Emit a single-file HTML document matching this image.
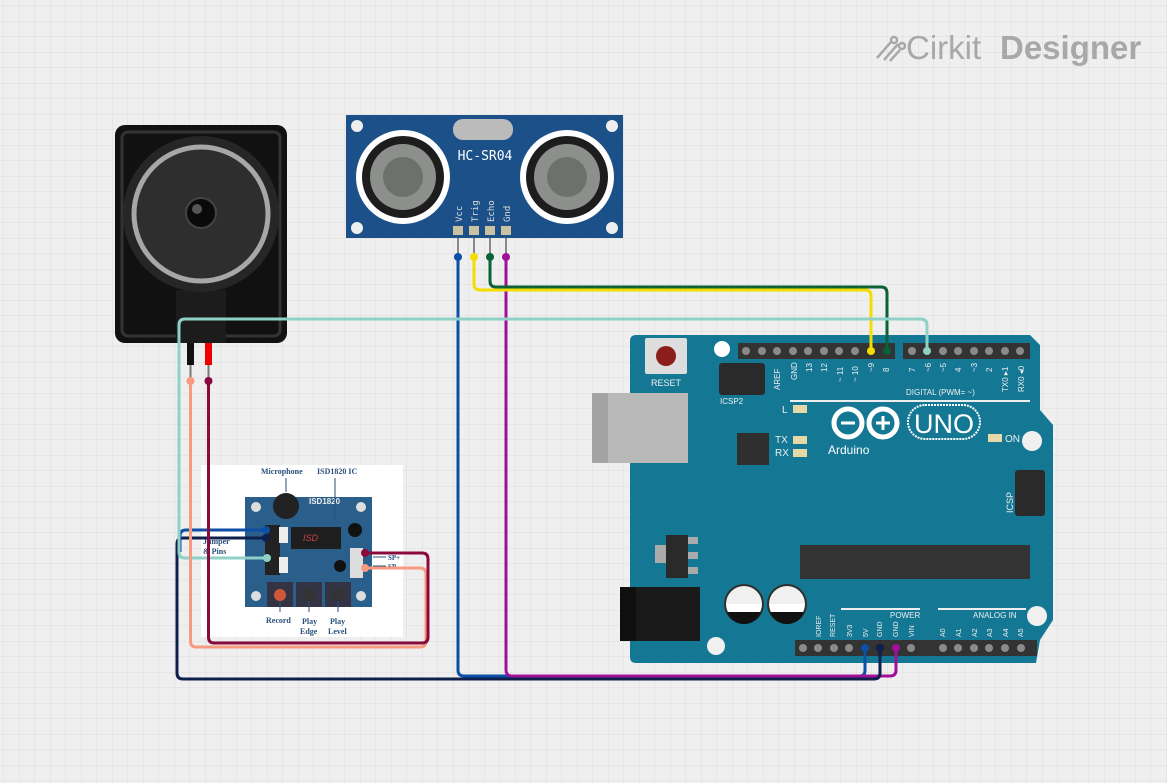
<!DOCTYPE html>
<html><head><meta charset="utf-8"><style>
html,body{margin:0;padding:0;background:#efefef;}
svg{display:block;font-family:"Liberation Sans",sans-serif;}
</style></head><body>
<svg width="1167" height="783" viewBox="0 0 1167 783" xmlns="http://www.w3.org/2000/svg">
<defs>
<pattern id="g" width="15.5" height="15.5" patternUnits="userSpaceOnUse" x="4" y="6">
<path d="M15.5 0V15.5H0" fill="none" stroke="#dcdcdc" stroke-width="1"/>
</pattern>
</defs>
<rect width="1167" height="783" fill="#efefef"/>
<rect width="1167" height="783" fill="url(#g)"/>

<!-- logo -->
<g fill="#a8a8a8">
<text x="906" y="59" font-size="33">Cirkit</text>
<text x="1000" y="59" font-size="33" font-weight="bold">Designer</text>
</g>
<g stroke="#a8a8a8" stroke-width="2.5" fill="none"><path d="M877 58l14-16M884 60l14-16M890 61l10-11"/><circle cx="894" cy="40" r="3"/><circle cx="902" cy="46" r="3"/></g>

<!-- Speaker -->
<rect x="115" y="125" width="172" height="218" rx="10" fill="#111"/>
<rect x="122" y="132" width="158" height="204" rx="6" fill="none" stroke="#333" stroke-width="3"/>
<rect x="176" y="290" width="50" height="53" fill="#1c1c1c"/>
<circle cx="201" cy="214" r="78" fill="#262626"/>
<circle cx="201" cy="214" r="67" fill="#2e2e2e" stroke="#a7a7a7" stroke-width="5"/>
<circle cx="201" cy="213" r="15" fill="#0a0a0a" stroke="#444" stroke-width="2"/>
<circle cx="197" cy="209" r="5" fill="#555"/>
<rect x="187" y="343" width="7" height="22" fill="#111"/>
<rect x="205" y="343" width="7" height="22" fill="#e00"/>
<path d="M190.5 365V381M208.5 365V381" stroke="#777" stroke-width="2"/>

<!-- HC-SR04 -->
<rect x="346" y="115" width="277" height="123" fill="#1b5089"/>
<circle cx="357" cy="126" r="6" fill="#eee"/><circle cx="612" cy="126" r="6" fill="#eee"/>
<circle cx="357" cy="228" r="6" fill="#eee"/><circle cx="612" cy="228" r="6" fill="#eee"/>
<rect x="453" y="119" width="60" height="21" rx="10" fill="#bbb"/>
<text x="485" y="160" font-size="13" fill="#fff" text-anchor="middle" font-family="DejaVu Sans Mono,monospace">HC-SR04</text>
<g><circle cx="403" cy="177" r="47" fill="#fff"/><circle cx="403" cy="177" r="41" fill="#1d1d1d"/><circle cx="403" cy="177" r="33" fill="#8c8f8c"/><circle cx="403" cy="177" r="20" fill="#6e706e"/></g>
<g><circle cx="567" cy="177" r="47" fill="#fff"/><circle cx="567" cy="177" r="41" fill="#1d1d1d"/><circle cx="567" cy="177" r="33" fill="#8c8f8c"/><circle cx="567" cy="177" r="20" fill="#6e706e"/></g>
<g font-size="9" fill="#ddd" font-family="DejaVu Sans Mono,monospace">
<text transform="translate(462,222) rotate(-90)">Vcc</text>
<text transform="translate(478,222) rotate(-90)">Trig</text>
<text transform="translate(494,222) rotate(-90)">Echo</text>
<text transform="translate(510,222) rotate(-90)">Gnd</text>
</g>
<g fill="#c8c2a0"><rect x="453" y="226" width="10" height="9"/><rect x="469" y="226" width="10" height="9"/><rect x="485" y="226" width="10" height="9"/><rect x="501" y="226" width="10" height="9"/></g>
<path d="M458 238V257M474 238V257M490 238V257M506 238V257" stroke="#888" stroke-width="2"/>

<!-- ISD1820 module -->
<rect x="201" y="465" width="202" height="172" fill="#fff"/>
<rect x="245" y="497" width="127" height="110" fill="#2b5f8b"/>
<g fill="#ddd"><circle cx="256" cy="507" r="5"/><circle cx="361" cy="507" r="5"/><circle cx="256" cy="596" r="5"/><circle cx="361" cy="596" r="5"/></g>
<circle cx="286" cy="506" r="13" fill="#222"/>
<rect x="291" y="527" width="50" height="22" fill="#1e1e1e"/>
<text x="303" y="541" font-size="9" fill="#c44" font-style="italic">ISD</text>
<circle cx="355" cy="530" r="7" fill="#111"/>
<circle cx="340" cy="566" r="6" fill="#111"/>
<rect x="350" y="548" width="13" height="30" fill="#ddd"/>
<rect x="265" y="525" width="15" height="50" fill="#222"/>
<rect x="279" y="527" width="9" height="16" fill="#eee"/><rect x="279" y="557" width="9" height="16" fill="#eee"/>
<g fill="#334"><rect x="267" y="582" width="26" height="25"/><rect x="296" y="582" width="26" height="25"/><rect x="325" y="582" width="26" height="25"/></g>
<circle cx="280" cy="595" r="6" fill="#d0583a"/><circle cx="309" cy="595" r="6" fill="#333"/><circle cx="338" cy="595" r="6" fill="#333"/>
<g font-family="Liberation Serif,serif" font-weight="bold" font-size="8" fill="#2a4f7a">
<text x="261" y="474">Microphone</text><text x="317" y="474">ISD1820 IC</text>
<text x="266" y="623">Record</text><text x="302" y="624">Play</text><text x="300" y="634">Edge</text><text x="330" y="624">Play</text><text x="328" y="634">Level</text>
<text x="203" y="544">Jumper</text><text x="203" y="554">&amp; Pins</text>
<text x="388" y="560" font-size="7">SP+</text><text x="388" y="569" font-size="7">SP-</text>
</g>
<text x="309" y="504" font-size="8" fill="#eee" font-weight="bold">ISD1820</text>
<path d="M286 492V478M335 520V478M280 601V612M309 601V612M338 601V612M373 557H386M373 566H386" stroke="#2a4f7a" stroke-width="1"/>

<!-- Arduino -->
<path d="M636 335H1030L1040 345V410L1053 425V620L1040 640L1036 663H636Q630 663 630 657V341Q630 335 636 335Z" fill="#147895"/>
<rect x="592" y="393" width="96" height="70" fill="#b9b9b9"/><rect x="592" y="393" width="16" height="70" fill="#a3a3a3"/>
<rect x="645" y="338" width="42" height="36" rx="2" fill="#ddd"/><circle cx="666" cy="356" r="10" fill="#8b1d1d"/>
<text x="666" y="386" font-size="9" fill="#eee" text-anchor="middle">RESET</text>
<circle cx="722" cy="349" r="8" fill="#fff"/>
<rect x="719" y="363" width="46" height="32" rx="3" fill="#2a2a2a"/>
<text x="720" y="404" font-size="8" fill="#eee">ICSP2</text>
<rect x="738" y="343" width="157" height="16" fill="#333"/>
<rect x="903" y="343" width="127" height="16" fill="#333"/>
<g fill="#8a8a8a">
<circle cx="746" cy="351" r="4"/><circle cx="762" cy="351" r="4"/><circle cx="777" cy="351" r="4"/><circle cx="793" cy="351" r="4"/><circle cx="808" cy="351" r="4"/><circle cx="824" cy="351" r="4"/><circle cx="839" cy="351" r="4"/><circle cx="855" cy="351" r="4"/>
<circle cx="912" cy="351" r="4"/><circle cx="943" cy="351" r="4"/><circle cx="958" cy="351" r="4"/><circle cx="974" cy="351" r="4"/><circle cx="989" cy="351" r="4"/><circle cx="1005" cy="351" r="4"/><circle cx="1020" cy="351" r="4"/>
</g>
<g font-size="8" fill="#eee">
<text transform="translate(780,390) rotate(-90)">AREF</text><text transform="translate(797,380) rotate(-90)">GND</text>
<text transform="translate(812,372) rotate(-90)">13</text><text transform="translate(827,372) rotate(-90)">12</text>
<text transform="translate(843,382) rotate(-90)">~ 11</text><text transform="translate(858,382) rotate(-90)">~ 10</text>
<text transform="translate(874,372) rotate(-90)">~9</text><text transform="translate(889,372) rotate(-90)">8</text>
<text transform="translate(915,372) rotate(-90)">7</text><text transform="translate(931,372) rotate(-90)">~6</text><text transform="translate(946,372) rotate(-90)">~5</text><text transform="translate(961,372) rotate(-90)">4</text><text transform="translate(977,372) rotate(-90)">~3</text><text transform="translate(992,372) rotate(-90)">2</text><text transform="translate(1008,392) rotate(-90)">TX0 ▸1</text><text transform="translate(1024,392) rotate(-90)">RX0 ◂0</text>
<text x="906" y="395">DIGITAL (PWM=  ~)</text>
</g>
<path d="M790 401H1030" stroke="#eee" stroke-width="2"/>
<g fill="#e6d9a8"><rect x="793" y="405" width="14" height="8"/><rect x="793" y="436" width="14" height="8"/><rect x="793" y="449" width="14" height="8"/><rect x="988" y="434" width="14" height="8"/></g>
<g font-size="10" fill="#eee"><text x="782" y="413">L</text><text x="775" y="443">TX</text><text x="775" y="456">RX</text><text x="1005" y="442">ON</text></g>
<rect x="737" y="433" width="32" height="32" fill="#2f2f2f"/>
<g fill="none" stroke="#fff" stroke-width="5"><circle cx="848" cy="423" r="14"/><circle cx="883" cy="423" r="14"/></g>
<path d="M841 423h14M876 423h14M883 416v14" stroke="#fff" stroke-width="3"/>
<rect x="908" y="405" width="72" height="34" rx="17" fill="none" stroke="#fff" stroke-width="2" stroke-dasharray="2 1"/>
<text x="944" y="433" font-size="27" fill="#fff" text-anchor="middle">UNO</text>
<text x="828" y="454" font-size="12" fill="#fff">Arduino</text>
<circle cx="1032" cy="441" r="10" fill="#f0f0f0"/>
<rect x="1015" y="470" width="30" height="46" rx="3" fill="#2a2a2a"/>
<text transform="translate(1013,513) rotate(-90)" font-size="9" fill="#eee">ICSP</text>
<rect x="800" y="545" width="230" height="34" fill="#333"/>
<rect x="666" y="535" width="22" height="43" fill="#2a2a2a"/><rect x="655" y="545" width="11" height="18" fill="#aaa"/><rect x="688" y="537" width="10" height="7" fill="#aaa"/><rect x="688" y="552" width="10" height="7" fill="#aaa"/><rect x="688" y="567" width="10" height="7" fill="#aaa"/>
<rect x="620" y="587" width="80" height="54" fill="#1a1a1a"/><rect x="620" y="587" width="16" height="54" fill="#0f0f0f"/>
<g><circle cx="744" cy="604" r="20" fill="#2e2e2e"/><path d="M726 604a18 18 0 0 1 36 0Z" fill="#f0f0f0"/><path d="M726 604a18 18 0 0 0 36 0" fill="#fff"/><path d="M727 612h34a18 18 0 0 1-34 0Z" fill="#111"/></g>
<g><circle cx="787" cy="604" r="20" fill="#2e2e2e"/><path d="M769 604a18 18 0 0 1 36 0Z" fill="#f0f0f0"/><path d="M769 604a18 18 0 0 0 36 0" fill="#fff"/><path d="M770 612h34a18 18 0 0 1-34 0Z" fill="#111"/></g>
<circle cx="716" cy="646" r="9" fill="#f0f0f0"/>
<circle cx="1037" cy="616" r="10" fill="#f0f0f0"/>
<path d="M841 609H920M938 609H1026" stroke="#eee" stroke-width="2"/>
<text x="890" y="618" font-size="8" fill="#eee">POWER</text><text x="973" y="618" font-size="8" fill="#eee">ANALOG IN</text>
<g font-size="7" fill="#eee">
<text transform="translate(821,637) rotate(-90)">IOREF</text><text transform="translate(835,637) rotate(-90)">RESET</text><text transform="translate(852,637) rotate(-90)">3V3</text><text transform="translate(868,637) rotate(-90)">5V</text><text transform="translate(882,637) rotate(-90)">GND</text><text transform="translate(898,637) rotate(-90)">GND</text><text transform="translate(914,637) rotate(-90)">VIN</text>
<text transform="translate(945,637) rotate(-90)">A0</text><text transform="translate(961,637) rotate(-90)">A1</text><text transform="translate(977,637) rotate(-90)">A2</text><text transform="translate(992,637) rotate(-90)">A3</text><text transform="translate(1008,637) rotate(-90)">A4</text><text transform="translate(1023,637) rotate(-90)">A5</text>
</g>
<rect x="795" y="640" width="166" height="16" fill="#333"/><rect x="935" y="640" width="102" height="16" fill="#333"/>
<g fill="#8a8a8a">
<circle cx="803" cy="648" r="4"/><circle cx="818" cy="648" r="4"/><circle cx="834" cy="648" r="4"/><circle cx="849" cy="648" r="4"/><circle cx="911" cy="648" r="4"/>
<circle cx="943" cy="648" r="4"/><circle cx="958" cy="648" r="4"/><circle cx="974" cy="648" r="4"/><circle cx="989" cy="648" r="4"/><circle cx="1005" cy="648" r="4"/><circle cx="1021" cy="648" r="4"/>
</g>

<!-- wires -->
<g fill="none" stroke-width="3" stroke-linejoin="round">
<path d="M458 257V670Q458 676 464 676H860Q865 676 865 670V648" stroke="#0d4ea6"/>
<path d="M506 257V670Q506 676 512 676H890Q896 676 896 670V648" stroke="#a0109a"/>
<path d="M266 538H183Q177 538 177 544V673Q177 679 183 679H874Q880 679 880 673V648" stroke="#0e1f4e"/>
<path d="M266 530H186Q180 530 180 536V552" stroke="#0d4ea6"/>
<path d="M474 257V284Q474 290 480 290H865Q871 290 871 296V351" stroke="#f5dd00"/>
<path d="M490 257V281Q490 287 496 287H881Q887 287 887 293V351" stroke="#0a6236"/>
<path d="M267 558H185Q179 558 179 552V325Q179 319 185 319H920Q927 319 927 325V351" stroke="#8fd1c7"/>
<path d="M190.5 381V641Q190.5 647 196 647H420Q426 647 426 641V574Q426 568 420 568H365" stroke="#f79a80"/>
<path d="M208.5 381V637Q208.5 643 214 643H422Q428 643 428 637V559Q428 553 422 553H365" stroke="#8a0a3e"/>
</g>
<g>
<circle cx="458" cy="257" r="4" fill="#0d4ea6"/><circle cx="474" cy="257" r="4" fill="#f5dd00"/><circle cx="490" cy="257" r="4" fill="#0a6236"/><circle cx="506" cy="257" r="4" fill="#a0109a"/>
<circle cx="190.5" cy="381" r="4" fill="#f79a80"/><circle cx="208.5" cy="381" r="4" fill="#8a0a3e"/>
<circle cx="871" cy="351" r="4" fill="#f5dd00"/><circle cx="887" cy="351" r="4" fill="#0a6236"/><circle cx="927" cy="351" r="4" fill="#8fd1c7"/>
<circle cx="865" cy="648" r="4" fill="#0d4ea6"/><circle cx="880" cy="648" r="4" fill="#0e1f4e"/><circle cx="896" cy="648" r="4" fill="#a0109a"/>
<circle cx="266" cy="530" r="4" fill="#0d4ea6"/><circle cx="266" cy="538" r="4" fill="#0e1f4e"/><circle cx="267" cy="558" r="4" fill="#8fd1c7"/>
<circle cx="365" cy="553" r="4" fill="#8a0a3e"/><circle cx="365" cy="568" r="4" fill="#f79a80"/>
</g>
</svg>
</body></html>
